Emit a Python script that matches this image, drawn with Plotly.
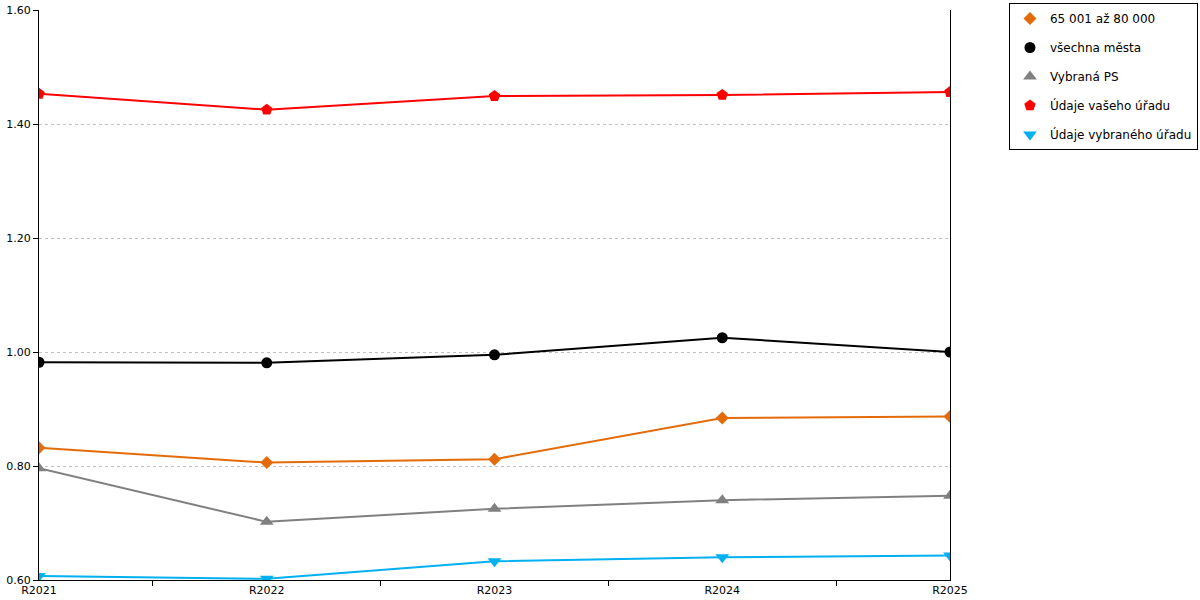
import plotly.graph_objects as go

years = ["R2021", "R2022", "R2023", "R2024", "R2025"]

mesta_65_80 = [0.832, 0.806, 0.812, 0.884, 0.887]
vsechna_mesta = [0.982, 0.981, 0.995, 1.025, 1.000]
vybrana_ps = [0.796, 0.702, 0.725, 0.740, 0.748]
vas_urad = [1.453, 1.425, 1.449, 1.451, 1.456]
vybrany_urad = [0.607, 0.602, 0.633, 0.640, 0.643]

series = [
    ("65 001 až 80 000", mesta_65_80, "#E36C09", "diamond", 10),
    ("všechna města", vsechna_mesta, "#000000", "circle", 11),
    ("Vybraná PS", vybrana_ps, "#808080", "triangle-up", 12),
    ("Údaje vašeho úřadu", vas_urad, "#FF0000", "pentagon", 12),
    ("Údaje vybraného úřadu", vybrany_urad, "#00B0F0", "triangle-down", 12),
]

fig = go.Figure()

# lines drawn without legend, legend gets marker-only entries
for name, vals, color, symbol, size in series:
    fig.add_trace(go.Scatter(
        x=years, y=vals, mode="lines+markers", name=name, showlegend=False,
        line=dict(color=color, width=2),
        marker=dict(color=color, symbol=symbol, size=size),
    ))
for name, vals, color, symbol, size in series:
    fig.add_trace(go.Scatter(
        x=[None], y=[None], mode="markers", name=name, legendgroup=name,
        marker=dict(color=color, symbol=symbol, size=size),
    ))

fig.update_layout(
    width=1200, height=600,
    margin=dict(l=39, r=250, t=10, b=20, autoexpand=False),
    plot_bgcolor="white", paper_bgcolor="white",
    font=dict(family="DejaVu Sans", size=11, color="#000000"),
    legend=dict(
        x=1.2722, y=1.0123, xanchor="right", yanchor="top",
        bordercolor="#000000", borderwidth=1,
        tracegroupgap=10, traceorder="grouped",
        font=dict(size=12),
    ),
)
fig.update_xaxes(
    type="category", range=[0, 4], automargin=False,
    showline=True, linecolor="#000000", linewidth=1,
    ticks="outside", tickson="boundaries", ticklen=5, tickcolor="#000000",
    showgrid=False, zeroline=False,
)
fig.update_yaxes(
    range=[0.6, 1.6], dtick=0.2, tickformat=".2f", automargin=False,
    showline=True, linecolor="#000000", linewidth=1, mirror=True,
    ticks="outside", ticklen=5, tickcolor="#000000",
    showgrid=True, gridcolor="#C0C0C0", griddash="dot", gridwidth=1,
    zeroline=False,
)

# drop the browser's default body margin so the figure fills the window
fig.write_html(
    "out.html",
    config={"displayModeBar": False},
    post_script="document.body.style.margin='0';",
)
